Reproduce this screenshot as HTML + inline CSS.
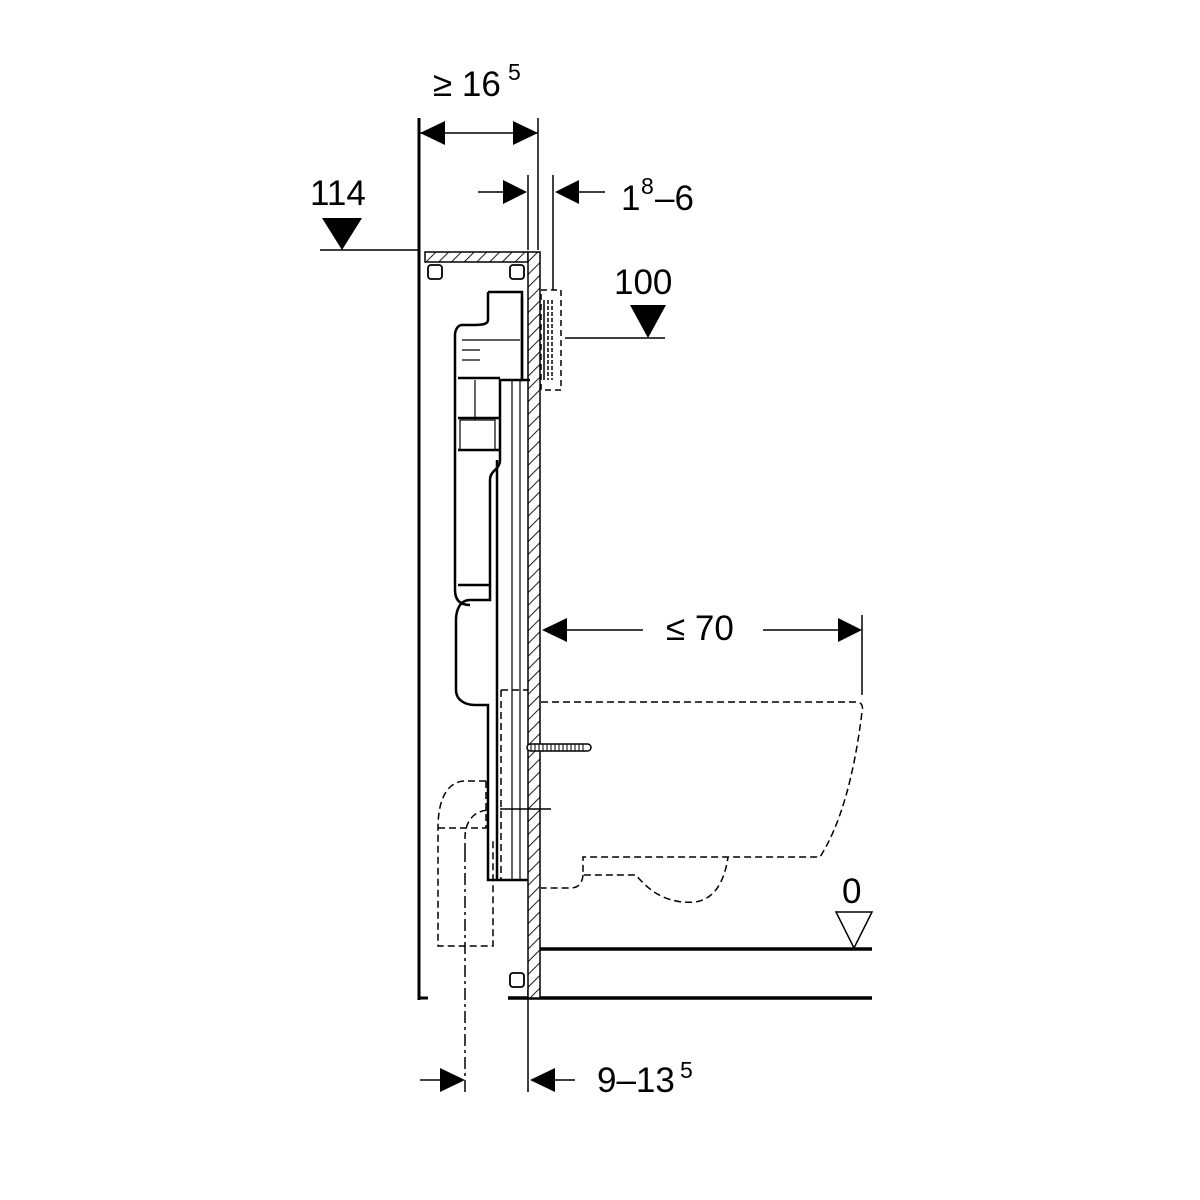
<!DOCTYPE html>
<html><head><meta charset="utf-8"><style>html,body{margin:0;padding:0;background:#fff}svg{display:block}</style></head>
<body>
<svg width="1200" height="1200" viewBox="0 0 1200 1200" xmlns="http://www.w3.org/2000/svg" font-family="Liberation Sans, sans-serif">
<defs>
<pattern id="h" width="9" height="9" patternUnits="userSpaceOnUse" patternTransform="rotate(45)">
<rect width="9" height="9" fill="#fff"/><line x1="0" y1="0" x2="0" y2="9" stroke="#000" stroke-width="1.8"/></pattern>
</defs>
<g stroke="#000" fill="none">
<line x1="419" y1="118" x2="419" y2="1000" stroke-width="3"/>
<line x1="418" y1="998" x2="428" y2="998" stroke-width="3"/>
<line x1="538" y1="118" x2="538" y2="250" stroke-width="1.5"/>
<line x1="420" y1="133" x2="538" y2="133" stroke-width="1.5"/>
<line x1="528" y1="175" x2="528" y2="250" stroke-width="1.5"/>
<line x1="553" y1="175" x2="553" y2="290" stroke-width="1.5"/>
<line x1="478" y1="192" x2="505" y2="192" stroke-width="1.5"/>
<line x1="578" y1="192" x2="605" y2="192" stroke-width="1.5"/>
<line x1="320" y1="250" x2="418" y2="250" stroke-width="1.5"/>
<line x1="565" y1="338" x2="665" y2="338" stroke-width="1.5"/>
<line x1="565" y1="630" x2="643" y2="630" stroke-width="1.5"/>
<line x1="763" y1="630" x2="840" y2="630" stroke-width="1.5"/>
<line x1="862" y1="615" x2="862" y2="695" stroke-width="1.5"/>
<line x1="540" y1="949" x2="872" y2="949" stroke-width="3.5"/>
<line x1="508" y1="998" x2="872" y2="998" stroke-width="3.5"/>
<line x1="465" y1="850" x2="465" y2="1092" stroke-width="1.5" stroke-dasharray="12,4,3,4"/>
<line x1="528" y1="990" x2="528" y2="1092" stroke-width="1.5"/>
<line x1="420" y1="1080" x2="445" y2="1080" stroke-width="1.5"/>
<line x1="553" y1="1080" x2="575" y2="1080" stroke-width="1.5"/>
</g>
<g fill="#000">
<polygon points="420,133 445,121 445,145"/>
<polygon points="538,133 513,121 513,145"/>
<polygon points="527,192 503,180 503,204"/>
<polygon points="555,192 579,180 579,204"/>
<polygon points="322,218 362,218 342,250"/>
<polygon points="630,305 666,305 648,338"/>
<polygon points="542,630 567,618 567,642"/>
<polygon points="862,630 838,618 838,642"/>
<polygon points="465,1080 440,1068 440,1092"/>
<polygon points="530,1080 555,1068 555,1092"/>
</g>
<polygon points="836,912 872,912 854,948" fill="#fff" stroke="#000" stroke-width="1.5"/>
<rect x="425" y="252" width="103" height="10" fill="url(#h)" stroke="#000" stroke-width="1.5"/>
<rect x="528" y="252" width="12" height="746" fill="url(#h)" stroke="#000" stroke-width="1.5"/>
<g fill="#fff" stroke="#000" stroke-width="1.8">
<rect x="428" y="265" width="14" height="14" rx="3"/>
<rect x="510" y="265" width="14" height="14" rx="3"/>
<rect x="510" y="973" width="14" height="14" rx="3"/>
</g>
<rect x="541" y="290" width="20" height="100" fill="none" stroke="#000" stroke-width="1.5" stroke-dasharray="6,4"/>
<g stroke="#000" stroke-width="1.5">
<line x1="544" y1="300" x2="544" y2="380"/><line x1="548" y1="300" x2="548" y2="380" stroke-dasharray="4,2"/><line x1="552" y1="300" x2="552" y2="380" stroke-dasharray="4,2"/>
</g>
<g stroke="#000" fill="none" stroke-width="2.5">
<path d="M488,292 L522,292 L522,380 L500,380 L500,460 C500,470 490,470 490,480 L490,600 L470,600 C460,600 456,610 456,620 L456,690 C456,700 465,705 475,705 L488,705 L488,740"/>
<path d="M488,292 L488,320 C488,325 480,325 470,325 L462,325 C458,325 455,330 455,335 L455,590 C455,600 460,605 470,605"/>
<path d="M458,378 L500,378 M458,418 L500,418 M458,450 L500,450 M458,585 L490,585"/>
<path d="M522,298 L522,380 L530,380"/>
<path d="M488,740 L488,880 L528,880"/>
<path d="M497,460 L497,880"/>
</g>
<g stroke="#000" fill="none" stroke-width="1.2">
<line x1="512" y1="380" x2="512" y2="880"/><line x1="520" y1="380" x2="520" y2="880"/>
<line x1="462" y1="340" x2="520" y2="340"/><line x1="462" y1="350" x2="480" y2="350"/><line x1="462" y1="360" x2="480" y2="360"/>
<rect x="460" y="420" width="35" height="30"/>
<line x1="475" y1="380" x2="475" y2="420"/>
</g>
<rect x="527" y="744" width="64" height="7" rx="3.5" fill="#fff" stroke="#000" stroke-width="1.5"/>
<g stroke="#000" stroke-width="1"><path d="M531,744v7M535,744v7M539,744v7M543,744v7M547,744v7M551,744v7M555,744v7M559,744v7M563,744v7M567,744v7M571,744v7M575,744v7M579,744v7M583,744v7"/></g>
<line x1="500" y1="809" x2="551" y2="809" stroke="#000" stroke-width="1.5"/>
<g stroke="#000" fill="none" stroke-width="1.5" stroke-dasharray="7,4">
<path d="M486,781 L465,781 C450,781 438,795 438,828 L438,946 L493,946 L493,838"/>
<path d="M438,828 L486,828 L486,781"/>
<path d="M465,850 L465,838 C465,820 475,810 490,810"/>
<path d="M501,690 L528,690 M501,690 L501,880"/>
<path d="M541,702 L858,702 Q864,704 862,712 Q850,810 820,857 L583,857 L583,875 L636,875 Q660,905 695,902 Q722,898 728,857 M583,875 Q582,888 570,888 L541,888"/>
</g>
<g fill="#000" font-size="35">
<text x="433" y="96">≥ 16</text><text x="508" y="80" font-size="23">5</text>
<text x="310" y="205">114</text>
<text x="621" y="210">1</text><text x="641" y="194" font-size="23">8</text><text x="655" y="210">–6</text>
<text x="614" y="294">100</text>
<text x="666" y="640">≤ 70</text>
<text x="842" y="903">0</text>
<text x="597" y="1092">9–13</text><text x="680" y="1078" font-size="23">5</text>
</g>
</svg>
</body></html>
